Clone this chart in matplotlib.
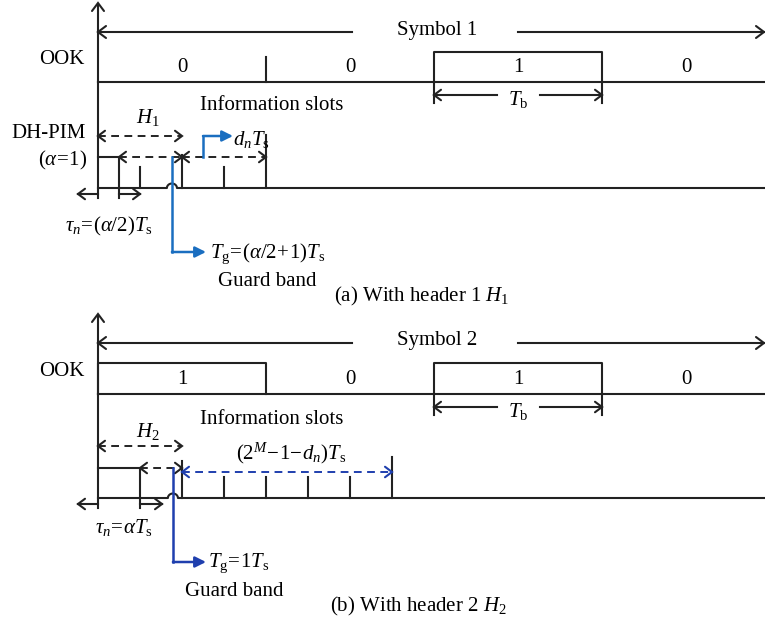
"""DH-PIM symbol structure compared with OOK, for header 1 and header 2."""

import matplotlib.pyplot as plt
import numpy as np

plt.rcParams["font.family"] = ["Liberation Serif", "DejaVu Serif"]
plt.rcParams["mathtext.fontset"] = "custom"
plt.rcParams["mathtext.rm"] = "Liberation Serif"
plt.rcParams["mathtext.it"] = "Liberation Serif:italic"
plt.rcParams["mathtext.bf"] = "Liberation Serif:bold"

# OOK bits carried by one symbol
bits_a = [0, 0, 1, 0]
bits_b = [1, 0, 1, 0]

# DH-PIM framing in slot units (T_s)
tau_a, tau_b = 0.5, 1.0          # pulse width: (alpha/2)Ts and alpha*Ts
header_slots = 2                 # header length H1 / H2
info_a, info_b = 2, 5            # d_n and (2^M - 1 - d_n)
guard_at = 1.76                  # where the guard band pointer leaves the frame

# layout (pixels)
X0 = 98
TB = 168
TS = TB / 4
XR = 764
BLACK = "#222222"
BLUE_A = "#1a6ec0"
BLUE_B = "#1f3fae"
FS = 15
LW = 1.5

fig = plt.figure(figsize=(7.65, 6.25), dpi=100)
ax = fig.add_axes([0, 0, 1, 1])
ax.set_xlim(0, 765)
ax.set_ylim(625, 0)
ax.axis("off")


def sx(s):
    return X0 + s * TS


def chevron(x, y, d, s=7, color=BLACK, lw=LW):
    if d == "l":
        xs, ys = [x + s, x, x + s], [y - s * 0.75, y, y + s * 0.75]
    elif d == "r":
        xs, ys = [x - s, x, x - s], [y - s * 0.75, y, y + s * 0.75]
    else:
        xs, ys = [x - s * 0.75, x, x + s * 0.75], [y + s, y, y + s]
    ax.plot(xs, ys, color=color, lw=lw, solid_capstyle="round",
            solid_joinstyle="miter")


def line(xs, ys, color=BLACK, lw=LW, **kw):
    ax.plot(xs, ys, color=color, lw=lw, **kw)


def dashed_arrow(x0, x1, y, color=BLACK, heads="lr"):
    line([x0, x1], [y, y], color=color, lw=1.4, ls=(0, (4, 2.8)))
    if "l" in heads:
        chevron(x0, y, "l", color=color)
    if "r" in heads:
        chevron(x1, y, "r", color=color)


def elbow(points, color):
    xs, ys = zip(*points)
    line(xs[:-1], ys[:-1], color=color, lw=1.8)
    ax.annotate("", xy=points[-1], xytext=points[-2],
                arrowprops=dict(arrowstyle="-|>", color=color, lw=1.8,
                                mutation_scale=16, shrinkA=0, shrinkB=0))


def baseline_with_hop(y, xh):
    t = np.linspace(np.pi, 0, 20)
    hx = xh + 5 * np.cos(t)
    hy = y - 4.5 * np.sin(t)
    line(np.r_[X0, hx, XR], np.r_[y, hy, y])


def ook_panel(y_sym, y_top, y_base, bits, label):
    # time axis
    line([X0, X0], [y_sym - 27, y_base + 0], lw=LW)
    chevron(X0, y_sym - 29, "u", s=8)
    # symbol span
    line([X0, 352], [y_sym, y_sym])
    chevron(X0, y_sym, "l", s=8)
    line([518, XR], [y_sym, y_sym])
    chevron(XR, y_sym, "r", s=8)
    ax.text(437, y_sym - 2, label, ha="center", va="center", fontsize=FS)
    ax.text(62, y_sym + 28, "OOK", ha="center", va="center", fontsize=FS)
    # OOK waveform
    line([X0, XR], [y_base, y_base])
    for i, b in enumerate(bits):
        xa, xb = X0 + i * TB, X0 + (i + 1) * TB
        if b:
            line([xa, xa, xb, xb], [y_base, y_top, y_top, y_base])
        elif i > 0 and not bits[i - 1]:
            line([xa, xa], [y_base - 25, y_base])
        ax.text((xa + xb) / 2, y_base - 14, str(b), ha="center",
                va="center", fontsize=FS)
    # bit duration
    xa, xb = X0 + 2 * TB, X0 + 3 * TB
    ty = y_base + 13
    for x in (xa, xb):
        line([x, x], [y_base, y_base + 21])
    line([xa, 497], [ty, ty])
    line([540, xb], [ty, ty])
    chevron(xa, ty, "l")
    chevron(xb, ty, "r")
    ax.text((xa + xb) / 2, ty + 4, r"$T_{\mathrm{b}}$", ha="center",
            va="center", fontsize=FS)


# ---------------- (a) header 1 ----------------
ook_panel(32, 52, 82, bits_a, "Symbol 1")
ya_top, ya_base = 157, 188
xg = sx(guard_at)
line([X0, X0], [82, ya_base + 10])
line([X0, sx(tau_a), sx(tau_a)], [ya_top, ya_top, ya_base + 10])
baseline_with_hop(ya_base, xg)
for s, h in [(1, 21), (2, 33), (3, 21), (header_slots + info_a, 53)]:
    line([sx(s), sx(s)], [ya_base - h, ya_base])

ax.text(272, 105, "Information slots", ha="center", va="center", fontsize=FS)
ax.text(148, 118, r"$H_{\mathrm{1}}$", ha="center", va="center", fontsize=FS)
ax.text(49, 134, "DH-PIM", ha="center", va="center", fontsize=FS)
ax.text(63, 160, r"$(\alpha\!=\!1)$", ha="center", va="center", fontsize=FS)

dashed_arrow(X0, sx(header_slots), 136)
dashed_arrow(sx(tau_a), sx(header_slots), ya_top)
dashed_arrow(sx(header_slots), sx(header_slots + info_a), ya_top)

elbow([(203, ya_top), (203, 136), (233, 136)], BLUE_A)
ax.text(251, 139, r"$d_{n}T_{\mathrm{s}}$", ha="center", va="center",
        fontsize=FS)
elbow([(xg, ya_top), (xg, 252), (206, 252)], BLUE_A)
ax.text(268, 254, r"$T_{\mathrm{g}}\!=\!(\alpha/2\!+\!1)T_{\mathrm{s}}$",
        ha="center", va="center", fontsize=FS)
ax.text(267, 282, "Guard band", ha="center", va="center", fontsize=FS)

ty = ya_base + 6
line([X0 - 20, X0], [ty, ty])
chevron(X0 - 20, ty, "l")
line([sx(tau_a), sx(tau_a) + 21], [ty, ty])
chevron(sx(tau_a) + 21, ty, "r")
ax.text(109, 226, r"$\tau_{n}\!=\!(\alpha/2)T_{\mathrm{s}}$", ha="center",
        va="center", fontsize=FS)
ax.text(422, 296, r"(a) With header 1 $H_{\mathrm{1}}$", ha="center",
        va="center", fontsize=FS)

# ---------------- (b) header 2 ----------------
ook_panel(343, 363, 394, bits_b, "Symbol 2")
yb_top, yb_base = 468, 498
xg = sx(guard_at) + 1
line([X0, X0], [394, yb_base + 10])
line([X0, sx(tau_b), sx(tau_b)], [yb_top, yb_top, yb_base + 10])
baseline_with_hop(yb_base, xg)
end_b = header_slots + info_b
for s in range(header_slots, end_b + 1):
    h = 37 if s in (header_slots, end_b) else 21
    if s == end_b:
        h = 41
    line([sx(s), sx(s)], [yb_base - h, yb_base])

ax.text(272, 419, "Information slots", ha="center", va="center", fontsize=FS)
ax.text(148, 432, r"$H_{\mathrm{2}}$", ha="center", va="center", fontsize=FS)
ax.text(291, 453, r"$(2^{M}\!-\!1\!-\!d_{n})T_{\mathrm{s}}$", ha="center",
        va="center", fontsize=FS)

dashed_arrow(X0, sx(header_slots), 446)
dashed_arrow(sx(tau_b), sx(header_slots), yb_top)
dashed_arrow(sx(header_slots), sx(end_b), yb_top + 4, color=BLUE_B)

elbow([(xg, yb_top), (xg, 562), (206, 562)], BLUE_B)
ax.text(239, 563, r"$T_{\mathrm{g}}\!=\!1T_{\mathrm{s}}$", ha="center",
        va="center", fontsize=FS)
ax.text(234, 592, "Guard band", ha="center", va="center", fontsize=FS)

ty = yb_base + 6
line([X0 - 20, X0], [ty, ty])
chevron(X0 - 20, ty, "l")
line([sx(tau_b), sx(tau_b) + 22], [ty, ty])
chevron(sx(tau_b) + 22, ty, "r")
ax.text(124, 527, r"$\tau_{n}\!=\!\alpha T_{\mathrm{s}}$", ha="center",
        va="center", fontsize=FS)
ax.text(418, 606, r"(b) With header 2 $H_{\mathrm{2}}$", ha="center",
        va="center", fontsize=FS)

fig.savefig("out.png", dpi=100, facecolor="white")
